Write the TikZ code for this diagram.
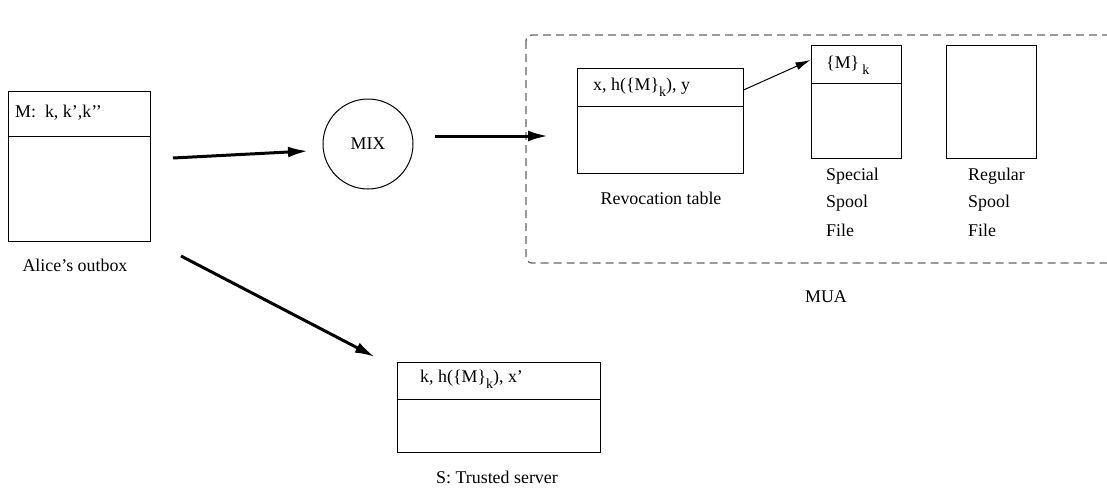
\documentclass[tikz,border=0pt]{standalone}
\usepackage{fontspec}
\setmainfont{Liberation Serif}
\usetikzlibrary{arrows.meta}
\newcommand{\subk}{\raisebox{-6pt}{\fontsize{14}{14}\selectfont k}}
\begin{document}
\begin{tikzpicture}[x=1pt,y=-1pt,
  every node/.style={font=\fontsize{17.9}{20}\selectfont, inner sep=0pt},
  box/.style={draw, line width=1pt, rectangle},
  lbl/.style={anchor=center},
  thick arrow/.style={line width=3pt, -{Latex[length=20pt,width=11pt]}},
  thin arrow/.style={line width=1pt, -{Latex[length=15pt,width=8pt]}},
  mua/.style={draw=black!60, line width=1.3pt, dash pattern=on 8pt off 5pt, rounded corners=6pt}]
\useasboundingbox (0,0) rectangle (1107,487);
\clip (0,0) rectangle (1107,487);

% Alice's outbox
\node[box, minimum width=142pt, minimum height=150pt] (alice) at (79,166) {};
\draw[line width=1pt] (alice.west |- 0,136) coordinate (ad1) -- (alice.east |- 0,136) coordinate (ad2);
\node[anchor=west] (alicetxt) at (15,113) {M:\ \ k, k’,k’’};
\node[lbl] (alicelbl) at (75,265) {Alice’s outbox};

% MIX
\node[draw, circle, line width=1pt, minimum size=90pt] (mix) at (368,144) {MIX};

% MUA dashed region
\draw[mua] (526,35) rectangle (1130,263);
\node[lbl] (mualbl) at (826,297) {MUA};

% Revocation table
\node[box, minimum width=166pt, minimum height=105pt] (rev) at (660,120.5) {};
\draw[line width=1pt] (rev.west |- 0,106) -- (rev.east |- 0,106);
\node[anchor=west] (revtxt) at (593,87) {x, h(\{M\}\subk), y};
\node[lbl] (revlbl) at (661,198) {Revocation table};

% Special spool file
\node[box, minimum width=90pt, minimum height=112pt] (spec) at (856,102) {};
\draw[line width=1pt] (spec.west |- 0,83) -- (spec.east |- 0,83);
\node[anchor=west] (spectxt) at (826,65) {\{M\}\,\subk};
\node[anchor=west] (spec1) at (826,176) {Special};
\node[anchor=west] (spec2) at (826,203) {Spool};
\node[anchor=west] (spec3) at (826,230) {File};

% Regular spool file
\node[box, minimum width=90pt, minimum height=112pt] (reg) at (991,102) {};
\node[anchor=west] (reg1) at (968,176) {Regular};
\node[anchor=west] (reg2) at (968,203) {Spool};
\node[anchor=west] (reg3) at (968,230) {File};

% Trusted server
\node[box, minimum width=203pt, minimum height=90pt] (ts) at (498.5,407) {};
\draw[line width=1pt] (ts.west |- 0,399) -- (ts.east |- 0,399);
\node[anchor=west] (tstxt) at (420,379) {k, h(\{M\}\subk), x’};
\node[lbl] (tslbl) at (497,477) {S: Trusted server};

% connector end points
\coordinate (a1s) at (173,158);
\coordinate (a1e) at (308,151);
\coordinate (a2s) at (435,136);
\coordinate (a2e) at (548,136);
\coordinate (a3s) at (181,256);
\coordinate (a3e) at (375,357);
\coordinate (a4s) at (rev.east |- 0,90);
\coordinate (a4e) at (spec.west |- 0,60);

\draw[thick arrow] (a1s) -- (a1e);
\draw[thick arrow] (a2s) -- (a2e);
\draw[thick arrow] (a3s) -- (a3e);
\draw[thin arrow] (a4s) -- (a4e);
\end{tikzpicture}
\end{document}
